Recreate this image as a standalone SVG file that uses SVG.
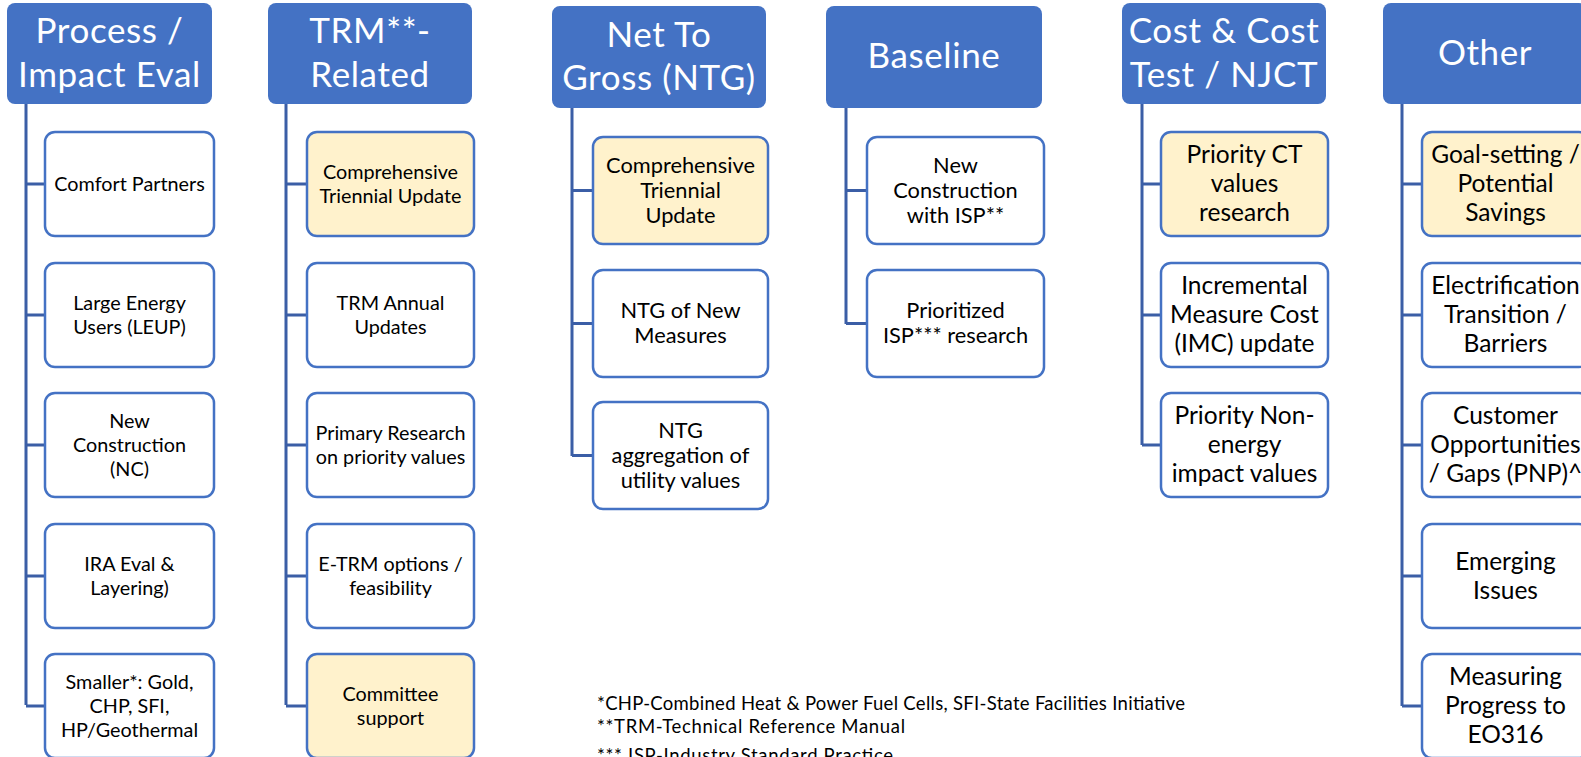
<svg xmlns="http://www.w3.org/2000/svg" width="1581" height="757" viewBox="0 0 1581 757">
<style>
.hdr{fill:#4472C4;}
.ht{fill:#FFFFFF;font-family:Lato,"Liberation Sans",sans-serif;font-size:35px;letter-spacing:0.6px;text-anchor:middle;}
.box{fill:#FFFFFF;stroke:#4472C4;stroke-width:2.5;}
.yel{fill:#FFF2CC;}
.t1{fill:#000000;font-family:Lato,"Liberation Sans",sans-serif;font-size:19.8px;text-anchor:middle;}
.t2{fill:#000000;font-family:Lato,"Liberation Sans",sans-serif;font-size:21.8px;text-anchor:middle;}
.t3{fill:#000000;font-family:Lato,"Liberation Sans",sans-serif;font-size:24.5px;text-anchor:middle;}
.fn{fill:#000000;font-family:Lato,"Liberation Sans",sans-serif;font-size:18.5px;}
.conn{fill:none;stroke:#3B5EA6;stroke-width:3;}
</style>
<rect width="1581" height="757" fill="#FFFFFF"/>
<g id="connectors">
<path class="conn" d="M26,104 V705 M26,184 H45 M26,315 H45 M26,445 H45 M26,576 H45 M26,706 H45"/>
<path class="conn" d="M286,104 V705 M286,184 H307 M286,315 H307 M286,445 H307 M286,576 H307 M286,706 H307"/>
<path class="conn" d="M572,108 V456 M572,190.5 H593 M572,323.5 H593 M572,455.5 H593"/>
<path class="conn" d="M846,108 V324 M846,190.5 H867 M846,323.5 H867"/>
<path class="conn" d="M1142,104 V445 M1142,184 H1161 M1142,315 H1161 M1142,445 H1161"/>
<path class="conn" d="M1402,104 V706 M1402,184 H1422 M1402,315 H1422 M1402,445 H1422 M1402,576 H1422 M1402,706 H1422"/>
</g>
<g id="h1"><rect class="hdr" x="7" y="3" width="205" height="101" rx="8"/><text class="ht" x="109.5" y="43">Process /</text><text class="ht" x="109.5" y="87">Impact Eval</text></g>
<g id="h2"><rect class="hdr" x="268" y="3" width="204" height="101" rx="8"/><text class="ht" x="370" y="43">TRM**-</text><text class="ht" x="370" y="87">Related</text></g>
<g id="h3"><rect class="hdr" x="552" y="6" width="214" height="102" rx="8"/><text class="ht" x="659" y="47">Net To</text><text class="ht" x="659" y="90">Gross (NTG)</text></g>
<g id="h4"><rect class="hdr" x="826" y="6" width="216" height="102" rx="8"/><text class="ht" x="934" y="68">Baseline</text></g>
<g id="h5"><rect class="hdr" x="1122" y="3" width="204" height="101" rx="8"/><text class="ht" x="1224" y="43">Cost &amp; Cost</text><text class="ht" x="1224" y="87">Test / NJCT</text></g>
<g id="h6"><rect class="hdr" x="1383" y="3" width="204" height="101" rx="8"/><text class="ht" x="1485" y="65">Other</text></g>

<g id="c1a"><rect class="box" x="45" y="132" width="169" height="104" rx="10"/><text class="t1" x="129.5" y="190.5">Comfort Partners</text></g>
<g id="c1b"><rect class="box" x="45" y="263" width="169" height="104" rx="10"/><text class="t1" x="129.5" y="309.5">Large Energy</text><text class="t1" x="129.5" y="333.5">Users (LEUP)</text></g>
<g id="c1c"><rect class="box" x="45" y="393" width="169" height="104" rx="10"/><text class="t1" x="129.5" y="427.5">New</text><text class="t1" x="129.5" y="451.5">Construction</text><text class="t1" x="129.5" y="475.5">(NC)</text></g>
<g id="c1d"><rect class="box" x="45" y="524" width="169" height="104" rx="10"/><text class="t1" x="129.5" y="570.5">IRA Eval &amp;</text><text class="t1" x="129.5" y="594.5">Layering)</text></g>
<g id="c1e"><rect class="box" x="45" y="654" width="169" height="104" rx="10"/><text class="t1" x="129.5" y="688.5">Smaller*: Gold,</text><text class="t1" x="129.5" y="712.5">CHP, SFI,</text><text class="t1" x="129.5" y="736.5">HP/Geothermal</text></g>

<g id="c2a"><rect class="box yel" x="307" y="132" width="167" height="104" rx="10"/><text class="t1" x="390.5" y="178.5">Comprehensive</text><text class="t1" x="390.5" y="202.5">Triennial Update</text></g>
<g id="c2b"><rect class="box" x="307" y="263" width="167" height="104" rx="10"/><text class="t1" x="390.5" y="309.5">TRM Annual</text><text class="t1" x="390.5" y="333.5">Updates</text></g>
<g id="c2c"><rect class="box" x="307" y="393" width="167" height="104" rx="10"/><text class="t1" x="390.5" y="439.5">Primary Research</text><text class="t1" x="390.5" y="463.5">on priority values</text></g>
<g id="c2d"><rect class="box" x="307" y="524" width="167" height="104" rx="10"/><text class="t1" x="390.5" y="570.5">E-TRM options /</text><text class="t1" x="390.5" y="594.5">feasibility</text></g>
<g id="c2e"><rect class="box yel" x="307" y="654" width="167" height="104" rx="10"/><text class="t1" x="390.5" y="700.5">Committee</text><text class="t1" x="390.5" y="724.5">support</text></g>

<g id="c3a"><rect class="box yel" x="593" y="137" width="175" height="107" rx="10"/><text class="t2" x="680.5" y="172.5">Comprehensive</text><text class="t2" x="680.5" y="197.5">Triennial</text><text class="t2" x="680.5" y="222.5">Update</text></g>
<g id="c3b"><rect class="box" x="593" y="270" width="175" height="107" rx="10"/><text class="t2" x="680.5" y="318">NTG of New</text><text class="t2" x="680.5" y="343">Measures</text></g>
<g id="c3c"><rect class="box" x="593" y="402" width="175" height="107" rx="10"/><text class="t2" x="680.5" y="437.5">NTG</text><text class="t2" x="680.5" y="462.5">aggregation of</text><text class="t2" x="680.5" y="487.5">utility values</text></g>

<g id="c4a"><rect class="box" x="867" y="137" width="177" height="107" rx="10"/><text class="t2" x="955.5" y="172.5">New</text><text class="t2" x="955.5" y="197.5">Construction</text><text class="t2" x="955.5" y="222.5">with ISP**</text></g>
<g id="c4b"><rect class="box" x="867" y="270" width="177" height="107" rx="10"/><text class="t2" x="955.5" y="318">Prioritized</text><text class="t2" x="955.5" y="343">ISP*** research</text></g>

<g id="c5a"><rect class="box yel" x="1161" y="132" width="167" height="104" rx="10"/><text class="t3" x="1244.5" y="163.4">Priority CT</text><text class="t3" x="1244.5" y="192.4">values</text><text class="t3" x="1244.5" y="221.4">research</text></g>
<g id="c5b"><rect class="box" x="1161" y="263" width="167" height="104" rx="10"/><text class="t3" x="1244.5" y="294">Incremental</text><text class="t3" x="1244.5" y="323">Measure Cost</text><text class="t3" x="1244.5" y="352">(IMC) update</text></g>
<g id="c5c"><rect class="box" x="1161" y="393" width="167" height="104" rx="10"/><text class="t3" x="1244.5" y="424">Priority Non-</text><text class="t3" x="1244.5" y="453">energy</text><text class="t3" x="1244.5" y="482">impact values</text></g>

<g id="c6a"><rect class="box yel" x="1422" y="132" width="167" height="104" rx="10"/><text class="t3" x="1505.5" y="163.4">Goal-setting /</text><text class="t3" x="1505.5" y="192.4">Potential</text><text class="t3" x="1505.5" y="221.4">Savings</text></g>
<g id="c6b"><rect class="box" x="1422" y="263" width="167" height="104" rx="10"/><text class="t3" x="1505.5" y="294">Electrification</text><text class="t3" x="1505.5" y="323">Transition /</text><text class="t3" x="1505.5" y="352">Barriers</text></g>
<g id="c6c"><rect class="box" x="1422" y="393" width="167" height="104" rx="10"/><text class="t3" x="1505.5" y="424">Customer</text><text class="t3" x="1505.5" y="453">Opportunities</text><text class="t3" x="1505.5" y="482">/ Gaps (PNP)^</text></g>
<g id="c6d"><rect class="box" x="1422" y="524" width="167" height="104" rx="10"/><text class="t3" x="1505.5" y="570">Emerging</text><text class="t3" x="1505.5" y="599">Issues</text></g>
<g id="c6e"><rect class="box" x="1422" y="654" width="167" height="104" rx="10"/><text class="t3" x="1505.5" y="685">Measuring</text><text class="t3" x="1505.5" y="714">Progress to</text><text class="t3" x="1505.5" y="743">EO316</text></g>

<g id="footnotes">
<text class="fn" x="597" y="710" textLength="588" lengthAdjust="spacing">*CHP-Combined Heat &amp; Power Fuel Cells, SFI-State Facilities Initiative</text>
<text class="fn" x="597" y="733" textLength="308" lengthAdjust="spacing">**TRM-Technical Reference Manual</text>
<text class="fn" x="597" y="762" textLength="296" lengthAdjust="spacing">*** ISP-Industry Standard Practice</text>
</g>
</svg>
